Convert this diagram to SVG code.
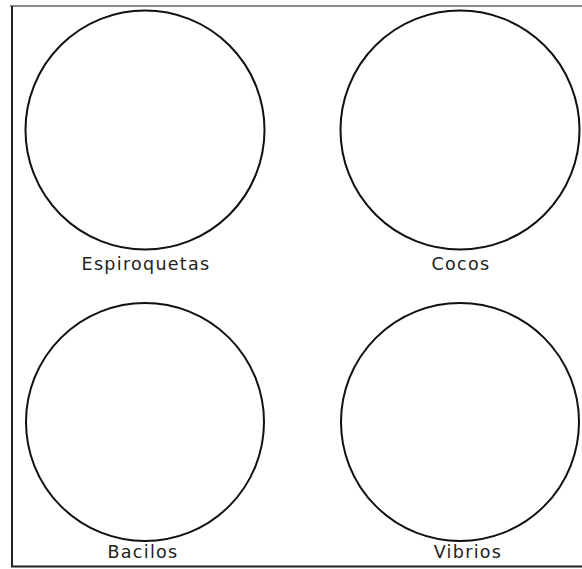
<svg xmlns="http://www.w3.org/2000/svg" width="582" height="569" viewBox="0 0 582 569">
<style>
.c{fill:none;stroke:#111;stroke-width:2}
.t{font-family:"DejaVu Sans","Liberation Sans",sans-serif;font-size:17.5px;fill:#222;text-anchor:middle;letter-spacing:1.3px}
</style>
<rect width="582" height="569" fill="#fff"/>
<g id="frame">
<line x1="10" y1="6" x2="582" y2="6" stroke="#8a8a8a" stroke-width="2"/>
<line x1="12" y1="6" x2="12" y2="567" stroke="#222" stroke-width="2"/>
<line x1="11" y1="566.5" x2="582" y2="566.5" stroke="#222" stroke-width="2"/>
</g>
<g id="espiroquetas">
<circle class="c" cx="145" cy="130" r="119.5"/>
<text class="t" x="146" y="270">Espiroquetas</text>
</g>
<g id="cocos">
<circle class="c" cx="460" cy="130" r="119.5"/>
<text class="t" x="461" y="270">Cocos</text>
</g>
<g id="bacilos">
<circle class="c" cx="145" cy="422" r="119"/>
<text class="t" x="143" y="558">Bacilos</text>
</g>
<g id="vibrios">
<circle class="c" cx="460" cy="422" r="119"/>
<text class="t" x="468" y="558">Vibrios</text>
</g>
<g id="connectors"/>
</svg>
